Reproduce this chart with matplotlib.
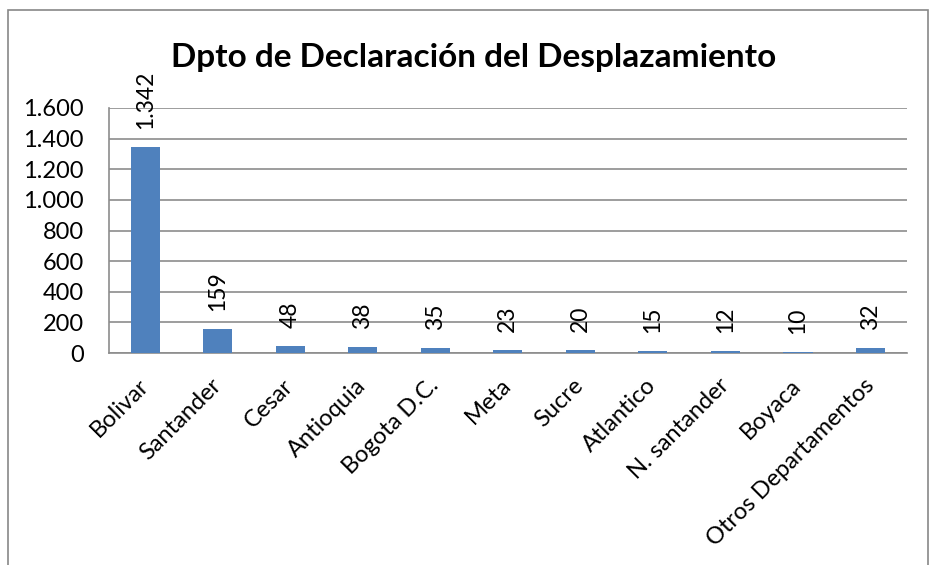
import matplotlib.pyplot as plt
from matplotlib.patches import Rectangle
from matplotlib.ticker import FuncFormatter

deptos = ['Bolivar', 'Santander', 'Cesar', 'Antioquia', 'Bogota D.C.', 'Meta',
          'Sucre', 'Atlantico', 'N. santander', 'Boyaca', 'Otros Departamentos']
casos = [1342, 159, 48, 38, 35, 23, 20, 15, 12, 10, 32]

plt.rcParams['font.family'] = ['Lato', 'DejaVu Sans']

fig = plt.figure(figsize=(9.31, 5.65), dpi=100)
fig.patches.append(Rectangle((8 / 931, -0.01), 920 / 931, 1 - 10 / 565 + 0.01,
                             transform=fig.transFigure, fill=False,
                             edgecolor='#888888', linewidth=1.2))
ax = fig.add_axes([0.117, 0.375, 0.857, 0.434])

x = range(len(deptos))
ax.bar(x, casos, width=0.4, color='#4F81BD', zorder=3)

def miles(v, pos):
    return f'{int(v):,}'.replace(',', '.')

for i, v in enumerate(casos):
    ax.annotate(miles(v, None), (i, v), xytext=(0, 13), textcoords='offset points',
                rotation=90, ha='center', va='bottom', fontsize=16.5)

ax.set_ylim(0, 1600)
ax.set_xlim(-0.5, len(deptos) - 0.5)
ax.set_yticks(range(0, 1601, 200))
ax.yaxis.set_major_formatter(FuncFormatter(miles))
ax.yaxis.grid(True, color='#8c8c8c', linewidth=1.2, zorder=0)
ax.set_xticks(list(x))
ax.set_xticklabels(deptos, rotation=45, ha='right', va='center', rotation_mode='anchor')
ax.tick_params(axis='both', labelsize=17, length=0)
ax.tick_params(axis='y', pad=18)
ax.tick_params(axis='x', pad=21)
for s in ['top', 'right']:
    ax.spines[s].set_visible(False)
for s in ['left', 'bottom']:
    ax.spines[s].set_color('#8c8c8c')
    ax.spines[s].set_linewidth(1.2)

fig.text(474 / 931, 1 - 57 / 565, 'Dpto de Declaración del Desplazamiento',
         ha='center', va='center', fontsize=24, fontweight='bold')

fig.savefig('out.png', dpi=100)
